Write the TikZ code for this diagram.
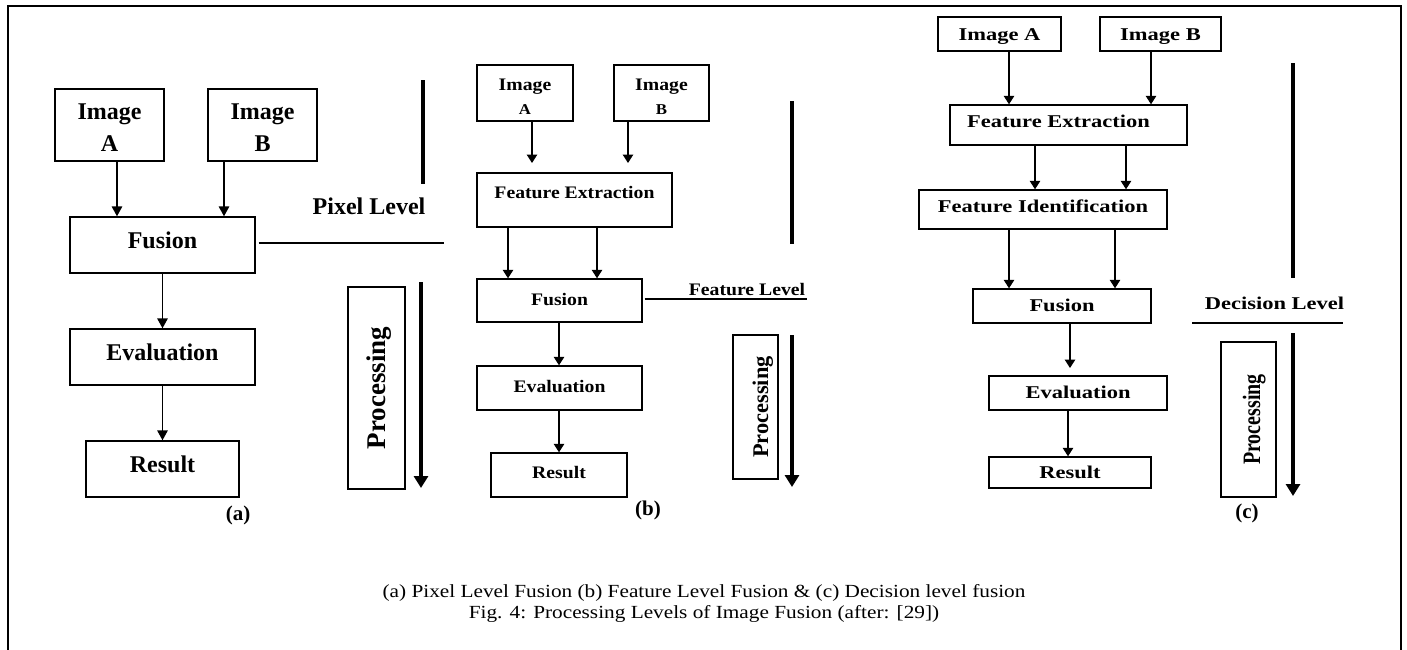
\documentclass[tikz,border=0pt]{standalone}
\usepackage{fontspec}
\setmainfont{Liberation Serif}
\newfontfamily\fb[FakeStretch=1.12]{Liberation Serif}
\newfontfamily\fc[FakeStretch=1.25]{Liberation Serif}
\newfontfamily\fcp[FakeStretch=0.8]{Liberation Serif}
\newfontfamily\fcap[FakeStretch=1.15]{Liberation Serif}
\usetikzlibrary{arrows.meta}
\newcommand\fsz[2]{\fontsize{#1}{#2}\selectfont}
\begin{document}
\begin{tikzpicture}[x=1pt,y=-1pt,
  bx/.style={draw, line width=1.4pt, inner sep=0pt, align=center},
  fa/.style={font=\fsz{24}{32}\bfseries},
  fbf/.style={font=\fb\fsz{17.6}{24}\bfseries},
  fcf/.style={font=\fc\fsz{18}{24}\bfseries},
  conn/.style={line width=1.6pt, -{Triangle[length=10pt,width=10.5pt]}},
  connb/.style={line width=1.3pt, -{Triangle[length=8.5pt,width=10.5pt]}},
  vbar/.style={line width=4pt},
  bigarrow/.style={line width=4pt, -{Triangle[length=12pt,width=14pt]}},
  lvl/.style={line width=1.8pt},
  lab/.style={font=\fsz{21}{24}\bfseries},
  capf/.style={font=\fcap\fsz{18.5}{22}}
]
\useasboundingbox (0,0) rectangle (1407,649);
% frame
\draw[line width=1.5pt] (8,660) -- (8,6) -- (1401,6) -- (1401,660);
\draw[line width=2.2pt] (8,6) -- (1401,6);

% ---------------- (a) ----------------
\node[bx,fa,minimum width=109pt,minimum height=72pt] (aImgA) at (109.5,125) {\rule{0pt}{21pt}Image\\A};
\node[bx,fa,minimum width=109pt,minimum height=72pt] (aImgB) at (262.5,125) {\rule{0pt}{21pt}Image\\B};
\node[bx,fa,minimum width=185pt,minimum height=56pt,text height=16pt,text depth=10pt] (aFus) at (162.5,245) {Fusion};
\node[bx,fa,minimum width=185pt,minimum height=56pt,text height=16pt,text depth=10pt] (aEval) at (162.5,357) {Evaluation};
\node[bx,fa,minimum width=153pt,minimum height=56pt,text height=16pt,text depth=10pt] (aRes) at (162.5,469) {Result};
\coordinate (ca1) at (117,0);
\coordinate (ca2) at (224,0);
\draw[conn] (aImgA.south -| ca1) -- (ca1 |- aFus.north);
\draw[conn] (aImgB.south -| ca2) -- (ca2 |- aFus.north);
\draw[conn] (aFus) -- (aEval);
\draw[conn] (aEval) -- (aRes);
\node[fa,anchor=base,inner sep=0pt] (aLvl) at (369,214) {Pixel Level};
\draw[vbar] (423,80) -- (423,184);
\coordinate (aLvlEnd) at (444,243);
\draw[lvl] ([xshift=3pt]aFus.east |- aLvlEnd) -- (aLvlEnd);
\node[bx,rotate=90,minimum width=202pt,minimum height=57pt,font=\fsz{27}{30}\bfseries,text height=18pt,text depth=0pt] (aProc) at (376.5,388) {Processing};
\coordinate (aPs) at (421,282);
\coordinate (aPe) at (421,488);
\draw[bigarrow] (aPs) -- (aPe);
\node[lab] (aLab) at (238,515) {(a)};

% ---------------- (b) ----------------
\node[bx,fbf,minimum width=96pt,minimum height=56pt] (bImgA) at (525,93) {\rule{0pt}{19.5pt}Image\\{\fsz{15}{24}A}};
\node[bx,fbf,minimum width=95pt,minimum height=56pt] (bImgB) at (661.5,93) {\rule{0pt}{19.5pt}Image\\{\fsz{15}{24}B}};
\node[bx,fbf,minimum width=195pt,minimum height=54pt,text height=12pt,text depth=16pt] (bFE) at (574.5,200) {Feature Extraction};
\coordinate (bA1) at (532,163);
\coordinate (bA2) at (628,163);
\draw[connb] (bImgA.south -| bA1) -- (bA1);
\draw[connb] (bImgB.south -| bA2) -- (bA2);
\node[bx,fbf,minimum width=165pt,minimum height=43pt,text height=12pt,text depth=3pt] (bFus) at (559.5,300.5) {Fusion};
\coordinate (cb1) at (508,0);
\coordinate (cb2) at (597,0);
\coordinate (cb3) at (559,0);
\draw[connb] (bFE.south -| cb1) -- (cb1 |- bFus.north);
\draw[connb] (bFE.south -| cb2) -- (cb2 |- bFus.north);
\node[fbf,anchor=base,inner sep=0pt] (bLvl) at (747,295) {Feature Level};
\draw[vbar] (792,101) -- (792,244);
\coordinate (bLvlEnd) at (807,299);
\draw[lvl] ([xshift=2pt]bFus.east |- bLvlEnd) -- (bLvlEnd);
\node[bx,fbf,minimum width=165pt,minimum height=44pt,text height=12pt,text depth=4pt] (bEval) at (559.5,388) {Evaluation};
\node[bx,fbf,minimum width=136pt,minimum height=44pt,text height=12pt,text depth=6pt] (bRes) at (559,475) {Result};
\draw[connb] (bFus.south -| cb3) -- (cb3 |- bEval.north);
\draw[connb] (bEval.south -| cb3) -- (cb3 |- bRes.north);
\node[bx,rotate=90,minimum width=144pt,minimum height=45pt,font=\fsz{22.4}{26}\bfseries,text height=25pt,text depth=0pt] (bProc) at (755.5,407) {Processing};
\coordinate (bPs) at (792,335);
\coordinate (bPe) at (792,487);
\draw[bigarrow] (bPs) -- (bPe);
\node[lab] (bLab) at (648,510) {(b)};

% ---------------- (c) ----------------
\node[bx,fcf,minimum width=123pt,minimum height=34pt,text height=12pt,text depth=0pt] (cImgA) at (999.5,34) {Image A};
\node[bx,fcf,minimum width=121pt,minimum height=34pt,text height=12pt,text depth=0pt] (cImgB) at (1160.5,34) {Image B};
\node[bx,fcf,minimum width=237pt,minimum height=40pt,text height=12pt,text depth=8pt] (cFE) at (1068.5,125) {Feature Extraction\hspace*{20pt}};
\node[bx,fcf,minimum width=248pt,minimum height=39pt,text height=12pt,text depth=7pt] (cFI) at (1043,209.5) {Feature Identification};
\node[bx,fcf,minimum width=178pt,minimum height=34pt,text height=12pt,text depth=2pt] (cFus) at (1062,306) {Fusion};
\node[bx,fcf,minimum width=178pt,minimum height=34pt,text height=12pt,text depth=2pt] (cEval) at (1078,393) {Evaluation};
\node[bx,fcf,minimum width=162pt,minimum height=31pt,text height=12pt,text depth=0pt] (cRes) at (1070,472.5) {Result};
\coordinate (cc1) at (1009,0);
\coordinate (cc2) at (1151,0);
\coordinate (cc3) at (1035,0);
\coordinate (cc4) at (1126,0);
\coordinate (cc5) at (1115,0);
\coordinate (cc6) at (1068,0);
\draw[connb] (cImgA.south -| cc1) -- (cc1 |- cFE.north);
\draw[connb] (cImgB.south -| cc2) -- (cc2 |- cFE.north);
\draw[connb] (cFE.south -| cc3) -- (cc3 |- cFI.north);
\draw[connb] (cFE.south -| cc4) -- (cc4 |- cFI.north);
\draw[connb] (cFI.south -| cc1) -- (cc1 |- cFus.north);
\draw[connb] (cFI.south -| cc5) -- (cc5 |- cFus.north);
\coordinate (cFusEnd) at (1070,368);
\draw[connb] (cFus.south -| cFusEnd) -- (cFusEnd);
\draw[connb] (cEval.south -| cc6) -- (cc6 |- cRes.north);
\node[fcf,anchor=base,inner sep=0pt] (cLvl) at (1274.5,309) {Decision Level};
\coordinate (cL1) at (1192,323);
\coordinate (cL2) at (1343,323);
\draw[lvl] (cL1) -- (cL2);
\draw[vbar] (1293,63) -- (1293,278);
\node[bx,rotate=90,minimum width=155pt,minimum height=55pt,font=\fcp\fsz{25}{28}\bfseries,text height=23pt,text depth=0pt] (cProc) at (1248.5,419.5) {Processing};
\coordinate (cPs) at (1293,333);
\coordinate (cPe) at (1293,496);
\draw[bigarrow] (cPs) -- (cPe);
\node[lab] (cLab) at (1247,513) {(c)};

% caption
\node[capf,anchor=base,inner sep=0pt] (cap1) at (704,597) {(a) Pixel Level Fusion (b) Feature Level Fusion \& (c) Decision level fusion};
\node[capf,anchor=base,inner sep=0pt] (cap2) at (704,618) {Fig. 4: Processing Levels of Image Fusion (after: [29])};
\end{tikzpicture}
\end{document}
